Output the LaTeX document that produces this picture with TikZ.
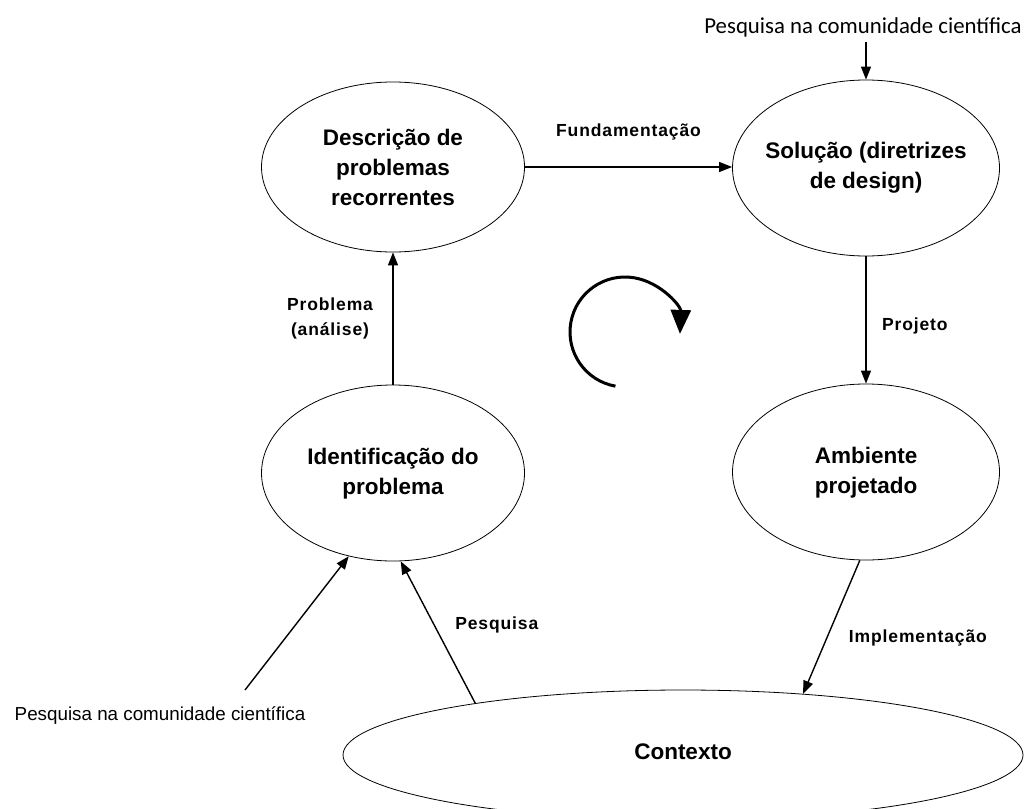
\documentclass[tikz,border=0pt]{standalone}
\usepackage{fontspec}
\setmainfont{Liberation Sans}
\newfontfamily\calibrilike{Carlito}
\newfontfamily\spacedbold[LetterSpace=5]{Liberation Sans Bold}
\usetikzlibrary{shapes.geometric,arrows.meta}
\tikzset{
  stage/.style={ellipse,draw,line width=0.8pt,inner sep=0pt},
  stagetext/.style={align=center,inner sep=0pt,
    font=\fontsize{22.5}{30}\selectfont\bfseries},
  flow/.style={-{Triangle[length=13pt,width=10pt]},line width=1.4pt},
  flowlabel/.style={font=\spacedbold\fontsize{17.5}{25}\selectfont,align=center},
  outside/.style={font=\fontsize{18.8}{22}\selectfont}
}
\begin{document}
\begin{tikzpicture}[x=1pt,y=-1pt]
\useasboundingbox (0,0) rectangle (1027,808);

\node[stage,minimum width=263pt,minimum height=170pt,
  label={[stagetext]center:{Descrição de\\problemas\\recorrentes}}] (desc) at (393,167) {};
\node[stage,minimum width=267pt,minimum height=176pt,
  label={[stagetext]center:{Solução (diretrizes\\de design)}}] (sol) at (866,168) {};
\node[stage,minimum width=263pt,minimum height=176pt,
  label={[stagetext,yshift=-1pt]center:{Identificação do\\problema}}] (ident) at (393,473) {};
\node[stage,minimum width=267pt,minimum height=176pt,
  label={[stagetext,yshift=-1pt]center:{Ambiente\\projetado}}] (amb) at (866,472) {};
\node[stage,minimum width=680pt,minimum height=130pt,
  label={[stagetext,yshift=3pt]center:{Contexto}}] (ctx) at (683,755) {};

\node[font=\calibrilike\fontsize{22.8}{26}\selectfont] (topsrc) at (863,27)
  {Pesquisa na comunidade científica};
\node[outside] (leftsrc) at (160,716) {Pesquisa na comunidade científica};
\coordinate (leftstart) at (245,690);
\coordinate (topstart) at (866,42);

\draw[flow] (desc.east |- 0,167) -- (sol.west |- 0,167)
  node[flowlabel,midway,above=23pt] {Fundamentação};
\draw[flow] (sol.south) -- (amb.north)
  node[flowlabel,pos=0.55,right=12pt] {Projeto};
\draw[flow] (ident.north) -- (desc.south)
  node[flowlabel,pos=0.5,left=16pt] {Problema\\(análise)};
\draw[flow] (amb.-94) -- (ctx.27.8)
  node[flowlabel,pos=0.58,right=18pt] {Implementação};
\draw[flow] (ctx.166.3) -- (ident.-85.5)
  node[flowlabel,pos=0.55,right=17pt] {Pesquisa};
\draw[flow] (leftstart) -- (ident.-118);
\draw[flow] (topstart) -- (sol.north);

% cycle indicator
\coordinate (cyc) at (625,332);
\draw[line width=3pt,-{Triangle[length=24pt,width=20pt]}]
  ([shift={(100:55)}]cyc) arc[start angle=100,end angle=362,radius=55];
\end{tikzpicture}
\end{document}
